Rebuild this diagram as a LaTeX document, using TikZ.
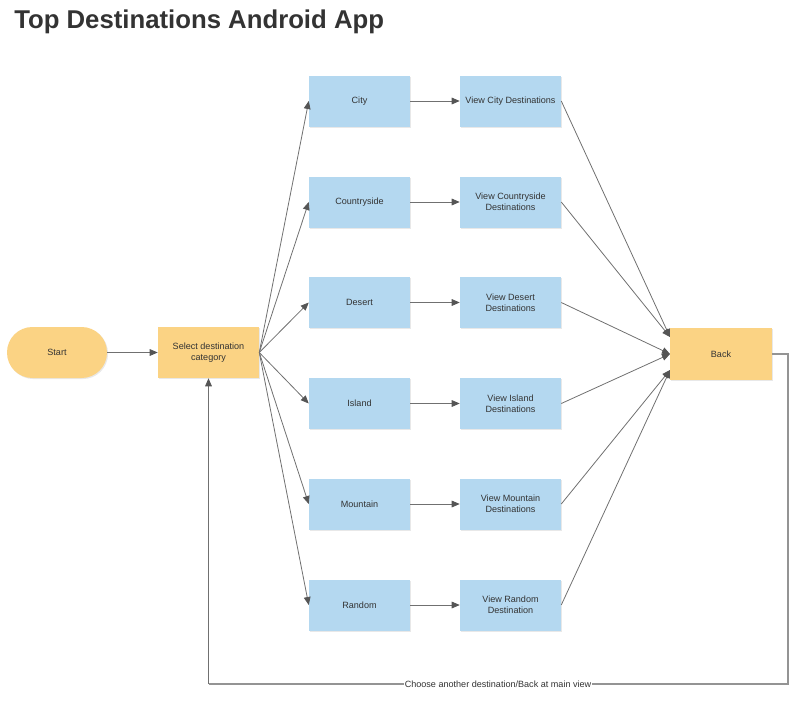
\documentclass[tikz,border=0pt]{standalone}
\usepackage{fontspec}
\setmainfont{Liberation Sans}
\usetikzlibrary{arrows.meta,shadows}
\definecolor{orangefill}{HTML}{FBD384}
\definecolor{bluefill}{HTML}{B4D8F0}
\definecolor{txt}{HTML}{333333}
\definecolor{ln}{HTML}{707070}
\definecolor{tip}{HTML}{555555}
\begin{document}
\begin{tikzpicture}[x=0.75pt,y=-0.75pt,
  base/.style={inner sep=0pt,align=center,text=txt,font=\fontsize{6.8pt}{8.2pt}\selectfont,
    drop shadow={shadow xshift=0.8pt,shadow yshift=-0.8pt,opacity=0.18}},
  bluebox/.style={base,fill=bluefill,minimum width=75.75pt,minimum height=38.25pt},
  orangebox/.style={base,fill=orangefill,minimum width=75.75pt,minimum height=38.25pt},
  conn/.style={draw=ln,line width=0.6pt,-{Triangle[length=6pt,width=5pt,color=tip]}},
  fb/.style={draw=ln!75,line width=0.8pt}
]
\useasboundingbox (0,0) rectangle (802,707);
\node[anchor=base west,font=\fontsize{19.3pt}{22pt}\selectfont\bfseries,text=txt,inner sep=0pt] (title) at (14,28.5) {Top Destinations Android App};

\node[orangebox,minimum width=75pt,rounded corners=19pt] (start) at (57,352.5) {Start};
\node[orangebox] (sel) at (208.5,352.5) {Select destination\\category};

\node[bluebox] (city) at (359.5,101) {City};
\node[bluebox] (country) at (359.5,202) {Countryside};
\node[bluebox] (desert) at (359.5,302.5) {Desert};
\node[bluebox] (island) at (359.5,403.5) {Island};
\node[bluebox] (mountain) at (359.5,504) {Mountain};
\node[bluebox] (random) at (359.5,605) {Random};

\node[bluebox] (vcity) at (510.5,101) {View City Destinations};
\node[bluebox] (vcountry) at (510.5,202) {View Countryside\\Destinations};
\node[bluebox] (vdesert) at (510.5,302.5) {View Desert\\Destinations};
\node[bluebox] (visland) at (510.5,403.5) {View Island\\Destinations};
\node[bluebox] (vmountain) at (510.5,504) {View Mountain\\Destinations};
\node[bluebox] (vrandom) at (510.5,605) {View Random\\Destination};

\node[orangebox,minimum width=76.5pt,minimum height=39pt] (back) at (721,354) {Back};

\coordinate (b1) at (670,337);
\coordinate (b2) at (670,354);
\coordinate (b3) at (670,370);

\draw[conn] (start.east) -- (sel.west);
\foreach \c in {city,country,desert,island,mountain,random}{
  \draw[conn] (sel.east) -- (\c.west);
}
\draw[conn] (city.east) -- (vcity.west);
\draw[conn] (country.east) -- (vcountry.west);
\draw[conn] (desert.east) -- (vdesert.west);
\draw[conn] (island.east) -- (visland.west);
\draw[conn] (mountain.east) -- (vmountain.west);
\draw[conn] (random.east) -- (vrandom.west);

\draw[conn] (vcity.east) -- (b1);
\draw[conn] (vcountry.east) -- (b1);
\draw[conn] (vdesert.east) -- (b2);
\draw[conn] (visland.east) -- (b2);
\draw[conn] (vmountain.east) -- (b3);
\draw[conn] (vrandom.east) -- (b3);

\coordinate (fr) at (788,354);
\coordinate (fbr) at (788,684);
\coordinate (fbl) at (208.5,684);
\draw[fb] (back.east) -- (fr) -- (fbr) -- (fbl);
\draw[conn] (fbl) -- (sel.south);
\node[fill=white,inner sep=0.5pt,text=txt,font=\fontsize{6.8pt}{8pt}\selectfont] (fblabel) at (498,684.5) {Choose another destination/Back at main view};
\end{tikzpicture}
\end{document}
